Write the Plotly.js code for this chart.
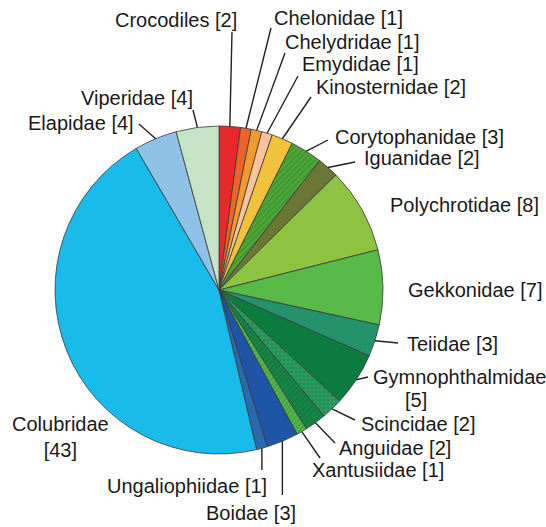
<!DOCTYPE html>
<html>
<head>
<meta charset="utf-8">
<script src="https://cdn.plot.ly/plotly-3.0.1.min.js"></script>
<style>html,body{margin:0;padding:0;background:#fff;}#chart{width:546px;height:527px;}</style>
</head>
<body>
<div id="chart"></div>
<script>
// ---- data ----
var families = ["Crocodiles","Chelonidae","Chelydridae","Emydidae","Kinosternidae","Corytophanidae","Iguanidae","Polychrotidae","Gekkonidae","Teiidae","Gymnophthalmidae","Scincidae","Anguidae","Xantusiidae","Boidae","Ungaliophiidae","Colubridae","Elapidae","Viperidae"];
var counts = [2,1,1,1,2,3,2,8,7,3,5,2,2,1,3,1,43,4,4];
var colors = ["#e8282b","#ec6427","#f39a2e","#f9c49c","#f2c33a","#4fa83a","#6b7734","#8cc340","#57b948","#24926a","#0c7c3e","#1f8f55","#168646","#55b548","#1f55a7","#2a6bb0","#19bbea","#8fc0e6","#c6e3c6"];
var patShape = ["","","","","","/","","","","","","+","/","/","","","","",""];
var patFg = ["","","","","","#2f7f26","","","","","","#45b57a","#0c6e36","#2f9138","","","","",""];

// ---- layout (label placement in pixels) ----
var W = 546, H = 527, CX = 219, CY = 290, R = 164;
var labelPos = [
  {x:239, y:20,  a:"right",  lx:232, ly:32},
  {x:272, y:18,  a:"left",   lx:271, ly:28},
  {x:283, y:42,  a:"left",   lx:285, ly:53},
  {x:300, y:64,  a:"left",   lx:298, ly:76},
  {x:314, y:87,  a:"left",   lx:311, ly:97},
  {x:333, y:137, a:"left",   lx:328, ly:140},
  {x:362, y:158, a:"left",   lx:355, ly:162},
  {x:388, y:205, a:"left",   lx:null},
  {x:406, y:290, a:"left",   lx:null},
  {x:405, y:344, a:"left",   lx:398, ly:343},
  {x:371, y:377, a:"left",   lx:368, ly:377, center:416, y2:400},
  {x:359, y:424, a:"left",   lx:355, ly:420},
  {x:337, y:448, a:"left",   lx:335, ly:443},
  {x:310, y:470, a:"left",   lx:320, ly:458},
  {x:251, y:513, a:"center", lx:null, vx:true, ly:495},
  {x:187, y:486, a:"center", lx:null, vx:true, ly:470},
  {x:60,  y:437, a:"center", lx:null, wrap:true},
  {x:136, y:123, a:"right",  lx:139, ly:124},
  {x:195, y:98,  a:"right",  lx:193, ly:110}
];

var total = counts.reduce(function(s,v){return s+v;},0);
var annotations = [], shapes = [];
var cum = 0;
var FONT = "Liberation Sans, Arial, sans-serif";
var tf = {family:FONT,size:20,color:"#1a1a1a"};
for (var i = 0; i < counts.length; i++) {
  var mid = (cum + counts[i]/2) / total * 2 * Math.PI;
  cum += counts[i];
  var ex = CX + R*Math.sin(mid), ey = CY - R*Math.cos(mid);
  var p = labelPos[i];
  if (p.center !== undefined) {
    annotations.push({xref:"paper",yref:"paper",x:p.x/W,y:1-p.y/H,xanchor:"left",yanchor:"middle",text:families[i],showarrow:false,font:tf});
    annotations.push({xref:"paper",yref:"paper",x:p.center/W,y:1-p.y2/H,xanchor:"center",yanchor:"middle",text:"[" + counts[i] + "]",showarrow:false,font:tf});
  } else {
    var txt = p.wrap ? families[i] + "<br>[" + counts[i] + "]" : families[i] + " [" + counts[i] + "]";
    annotations.push({xref:"paper",yref:"paper",x:p.x/W,y:1-p.y/H,xanchor:p.a,yanchor:"middle",text:txt,showarrow:false,align:"center",font:tf});
  }
  var endx = null, endy = null;
  if (p.lx !== null && p.lx !== undefined) { endx = p.lx; endy = p.ly; }
  else if (p.vx) { endx = ex; endy = p.ly; }
  if (endx !== null) {
    shapes.push({type:"line",xref:"paper",yref:"paper",x0:ex/W,y0:1-ey/H,x1:endx/W,y1:1-endy/H,line:{color:"#222",width:1.4}});
  }
}

var trace = {
  type:"pie",
  labels: families,
  values: counts,
  sort:false,
  direction:"clockwise",
  rotation:0,
  textinfo:"none",
  hoverinfo:"none",
  marker:{
    colors: colors,
    line:{color:"#3a3a3a", width:0.8},
    pattern:{shape: patShape, fgcolor: patFg, fillmode:"overlay", size:4, solidity:0.4}
  },
  domain:{x:[(CX-R)/W,(CX+R)/W], y:[1-(CY+R)/H, 1-(CY-R)/H]}
};

Plotly.newPlot("chart",[trace],{
  width:W,height:H,
  margin:{l:0,r:0,t:0,b:0},
  paper_bgcolor:"#fff",
  showlegend:false,
  annotations:annotations,
  shapes:shapes
},{staticPlot:true});
</script>
</body>
</html>
